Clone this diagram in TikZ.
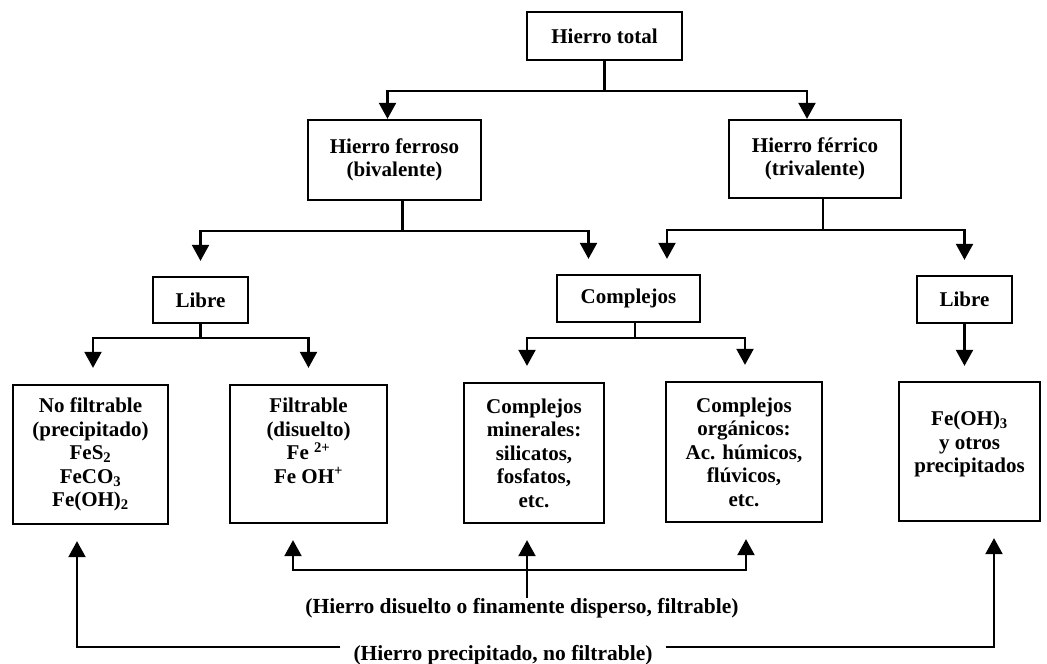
\documentclass[tikz,border=0pt]{standalone}
\usepackage{fontspec}
\setmainfont{Liberation Serif}
\usetikzlibrary{arrows.meta,calc}
\begin{document}
\begin{tikzpicture}[x=1pt,y=-1pt,
  box/.style={draw,line width=2.3pt,align=center,inner sep=0pt,font=\fontsize{21}{23.5}\selectfont\bfseries},
  lbl/.style={align=center,inner sep=0pt,font=\fontsize{21.5}{24}\selectfont\bfseries},
  conn/.style={line width=2.2pt},
  arr/.style={conn,-{Triangle[width=17pt,length=16pt]}},
  darr/.style={conn,{Triangle[width=17pt,length=16pt]}-{Triangle[width=17pt,length=16pt]}},
]
\useasboundingbox (0,0) rectangle (1047,664);

% boxes
\node[box,minimum width=155pt,minimum height=48pt] (total) at (604.5,36) {Hierro total};
\node[box,minimum width=173pt,minimum height=80pt] (ferroso) at (394.5,160) {Hierro ferroso\\(bivalente)};
\node[box,minimum width=172pt,minimum height=78pt] (ferrico) at (815,159) {Hierro férrico\\(trivalente)};
\node[box,minimum width=95pt,minimum height=46pt] (libreL) at (200.5,300) {Libre};
\node[box,minimum width=143pt,minimum height=47pt] (compl) at (628.5,298.5) {Complejos};
\node[box,minimum width=95pt,minimum height=47pt] (libreR) at (964.5,299.5) {Libre};

\node[box,minimum width=155pt,minimum height=139pt] (nf) at (90.5,454.5) {No filtrable\\(precipitado)\\FeS\textsubscript{2}\\FeCO\textsubscript{3}\\Fe(OH)\textsubscript{2}};
\node[box,minimum width=157pt,minimum height=138pt] (fi) at (308.5,454) {Filtrable\\(disuelto)\\Fe \textsuperscript{2+}\\Fe OH\textsuperscript{+}\\[-4pt]\strut};
\node[box,minimum width=140pt,minimum height=140pt] (cm) at (534,453) {Complejos\\minerales:\\silicatos,\\fosfatos,\\etc.};
\node[box,minimum width=156pt,minimum height=140pt] (co) at (744,452) {Complejos\\orgánicos:\\Ac. húmicos,\\flúvicos,\\etc.};
\node[box,minimum width=141pt,minimum height=139pt] (fe3) at (969.5,451.5) {Fe(OH)\textsubscript{3}\\y otros\\precipitados\\[-11pt]\strut};

\node[lbl] (lab1) at (522,608) {(Hierro disuelto o finamente disperso, filtrable)};
\node[lbl,inner xsep=13pt] (lab2) at (503,655) {(Hierro precipitado, no filtrable)};

% total -> ferroso, ferrico
\coordinate (j1) at ($(total.south)+(0,30)$);
\draw[conn] (total.south) -- (j1);
\draw[arr] (j1) -| ($(ferroso.north)+(-7,0)$);
\draw[arr] (j1) -| ($(ferrico.north)+(-8,0)$);

% ferroso -> libreL, compl
\coordinate (j2) at ($(ferroso.south)+(8,30)$);
\draw[conn] ($(ferroso.south)+(8,0)$) -- (j2);
\draw[arr,shorten >=15pt] (j2) -| (libreL.north);
\draw[arr,shorten >=15pt] (j2) -| ($(compl.north)+(-40,0)$);

% ferrico -> compl, libreR
\coordinate (j3) at ($(ferrico.south)+(8,31)$);
\draw[conn] ($(ferrico.south)+(8,0)$) -- (j3);
\draw[arr,shorten >=15pt] (j3) -| ($(compl.north)+(38.5,0)$);
\draw[arr,shorten >=15pt] (j3) -| (libreR.north);

% libreL -> nf, fi
\coordinate (j4) at ($(libreL.south)+(0,14)$);
\draw[conn] (libreL.south) -- (j4);
\draw[arr,shorten >=16pt] (j4) -| ($(nf.north)+(2.5,0)$);
\draw[arr,shorten >=16pt] (j4) -| (fi.north);

% compl -> cm, co
\coordinate (j5) at ($(compl.south)+(6.5,15)$);
\draw[conn] ($(compl.south)+(6.5,0)$) -- (j5);
\draw[arr,shorten >=16pt] (j5) -| ($(cm.north)+(-7,0)$);
\draw[arr,shorten >=16pt] (j5) -| ($(co.north)+(1,0)$);

% libreR -> fe3
\draw[arr,shorten >=15pt] (libreR.south) -- (libreR.south |- fe3.north);

% filtrable bus
\coordinate (bus) at ($(fi.south)+(-15.5,46)$);
\draw[darr,shorten <=16pt,shorten >=16pt] ($(fi.south)+(-15.5,0)$) -- (bus) -| ($(co.south)+(2,0)$);
\coordinate (cmup) at ($(cm.south)+(-7,0)$);
\draw[arr,shorten >=16pt] (lab1.north -| cmup) -- (cmup);

% precipitated bus
\coordinate (pL) at ($(nf.south)+(-13.5,122)$);
\coordinate (pR) at ($(fe3.south)+(24.5,125)$);
\draw[arr,shorten >=16pt] (lab2.west |- pL) -- (pL) -- (pL |- nf.south);
\draw[arr,shorten >=16pt] (lab2.east |- pR) -- (pR) -- (pR |- fe3.south);
\end{tikzpicture}
\end{document}
